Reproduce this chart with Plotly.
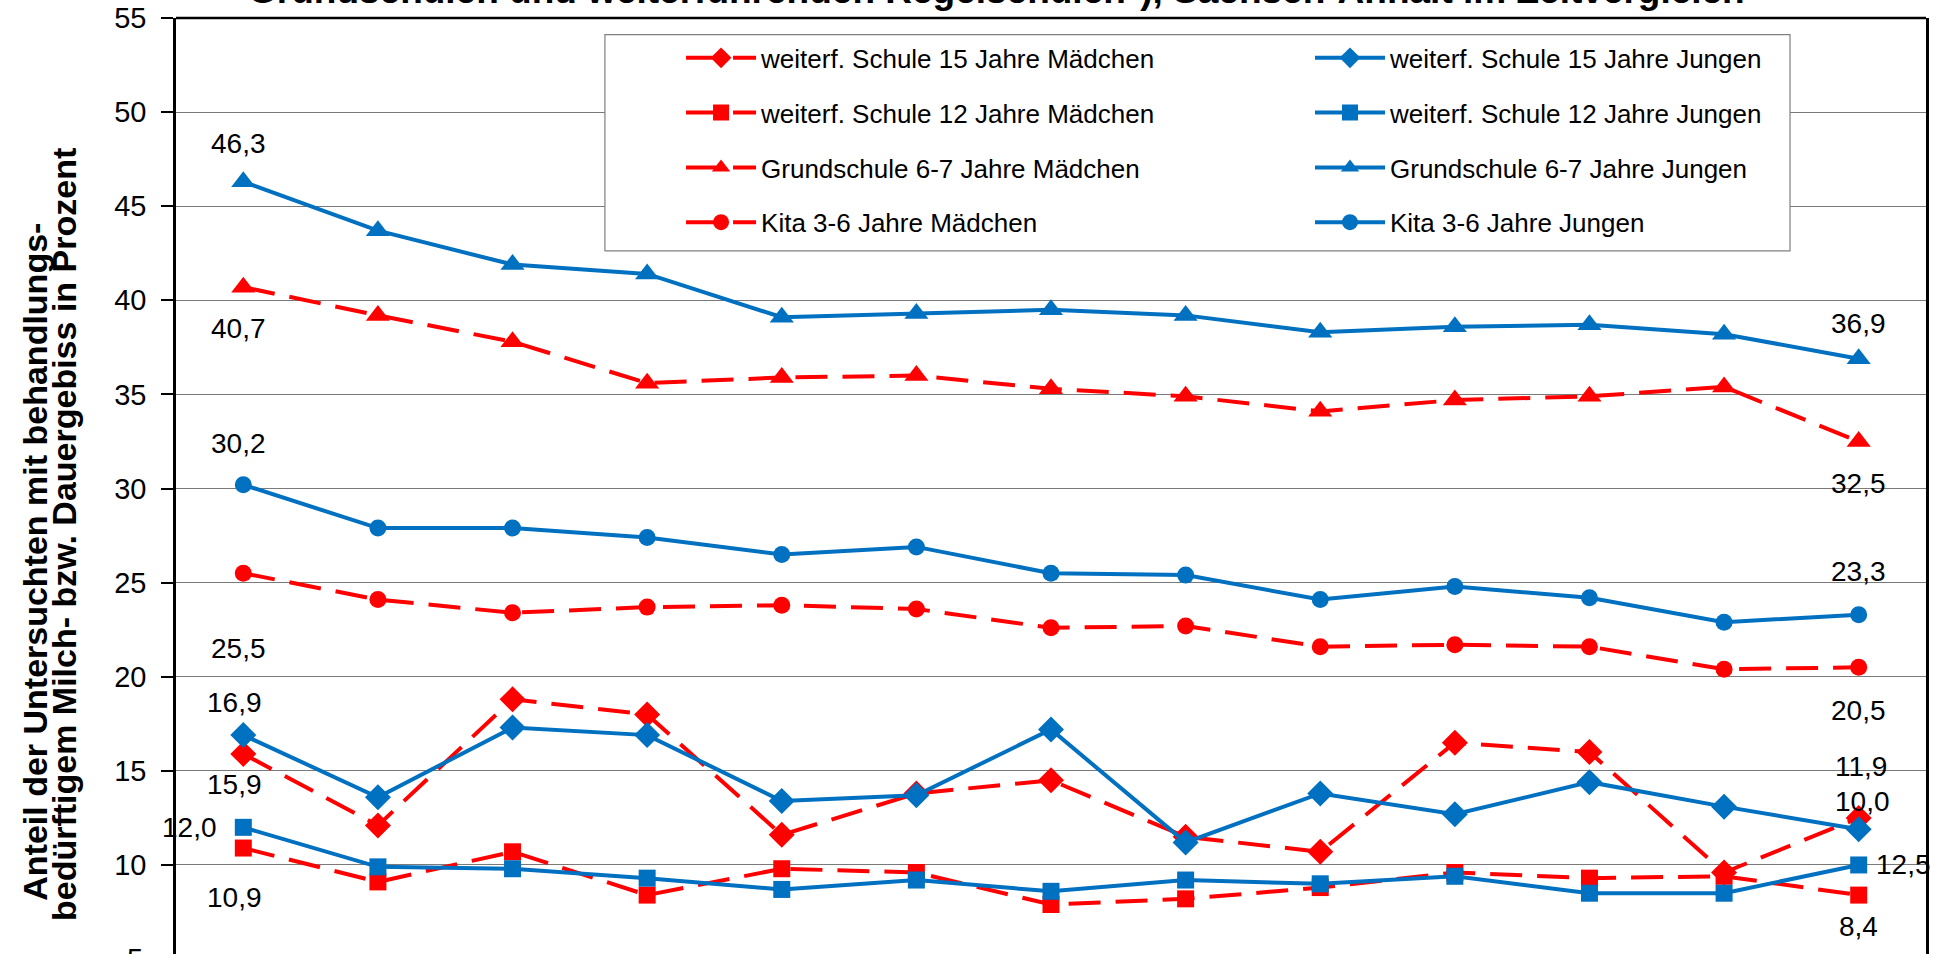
import plotly.graph_objects as go

# ---------------- data ----------------
years = ["2005/06", "2006/07", "2007/08", "2008/09", "2009/10", "2010/11", "2011/12",
         "2012/13", "2013/14", "2014/15", "2015/16", "2016/17", "2017/18"]

ws15_m = [15.9, 12.1, 18.8, 18.0, 11.6, 13.8, 14.5, 11.5, 10.7, 16.5, 16.0, 9.6, 12.5]
ws15_j = [16.9, 13.6, 17.3, 16.9, 13.4, 13.7, 17.2, 11.2, 13.8, 12.7, 14.4, 13.1, 11.9]
ws12_m = [10.9, 9.1, 10.7, 8.4, 9.8, 9.6, 7.9, 8.2, 8.8, 9.6, 9.3, 9.4, 8.4]
ws12_j = [12.0, 9.9, 9.8, 9.3, 8.7, 9.2, 8.6, 9.2, 9.0, 9.4, 8.5, 8.5, 10.0]
gs_m = [40.7, 39.2, 37.8, 35.6, 35.9, 36.0, 35.3, 34.9, 34.1, 34.7, 34.9, 35.4, 32.5]
gs_j = [46.3, 43.7, 41.9, 41.4, 39.1, 39.3, 39.5, 39.2, 38.3, 38.6, 38.7, 38.2, 36.9]
kita_m = [25.5, 24.1, 23.4, 23.7, 23.8, 23.6, 22.6, 22.7, 21.6, 21.7, 21.6, 20.4, 20.5]
kita_j = [30.2, 27.9, 27.9, 27.4, 26.5, 26.9, 25.5, 25.4, 24.1, 24.8, 24.2, 22.9, 23.3]

names = {
    "ws15_m": "weiterf. Schule 15 Jahre Mädchen",
    "ws15_j": "weiterf. Schule 15 Jahre Jungen",
    "ws12_m": "weiterf. Schule 12 Jahre Mädchen",
    "ws12_j": "weiterf. Schule 12 Jahre Jungen",
    "gs_m": "Grundschule 6-7 Jahre Mädchen",
    "gs_j": "Grundschule 6-7 Jahre Jungen",
    "kita_m": "Kita 3-6 Jahre Mädchen",
    "kita_j": "Kita 3-6 Jahre Jungen",
}
title_text = "Grundschulen und weiterführenden Regelschulen*), Sachsen-Anhalt im Zeitvergleich"
ytitle_1 = "Anteil der Untersuchten mit behandlungs-"
ytitle_2 = "bedürftigem Milch- bzw. Dauergebiss in Prozent"
y_ticks = [5, 10, 15, 20, 25, 30, 35, 40, 45, 50, 55]
Y_MIN, Y_MAX = 5.27, 55  # visible part of the value axis (bottom is cut off)

RED = "#FF0000"
BLUE = "#0070C0"
FONT = "Liberation Sans, Arial, sans-serif"

fig = go.Figure()

series = [
    ("ws15_m", ws15_m, RED, "diamond", 20, "legend"),
    ("ws12_m", ws12_m, RED, "square", 17, "legend"),
    ("gs_m", gs_m, RED, "triangle-up", 21, "legend"),
    ("kita_m", kita_m, RED, "circle", 17, "legend"),
    ("ws15_j", ws15_j, BLUE, "diamond", 20, "legend2"),
    ("ws12_j", ws12_j, BLUE, "square", 17, "legend2"),
    ("gs_j", gs_j, BLUE, "triangle-up", 21, "legend2"),
    ("kita_j", kita_j, BLUE, "circle", 17, "legend2"),
]

for key, vals, col, sym, size, leg in series:
    fig.add_trace(go.Scatter(
        x=years, y=vals, name=names[key], mode="lines+markers",
        line=dict(color=col, width=4, dash="32px,15px" if col == RED else "solid"),
        marker=dict(symbol=sym, size=size, color=col),
        legend=leg, legendgroup=key, cliponaxis=False,
    ))

def fmt(v):
    return f"{v:.1f}".replace(".", ",")

LBL = dict(family=FONT, size=28, color="black")
first, last = years[0], years[-1]
# (x category, value anchor, text value, xshift, yshift)
labels = [
    (first, gs_j[0], gs_j[0], -5, 38),
    (first, gs_m[0], gs_m[0], -5, -41),
    (first, kita_j[0], kita_j[0], -5, 41),
    (first, kita_m[0], kita_m[0], -5, -75),
    (first, ws15_j[0], ws15_j[0], -9, 33),
    (first, ws15_m[0], ws15_m[0], -9, -31),
    (first, ws12_j[0], ws12_j[0], -54, 0),
    (first, ws12_m[0], ws12_m[0], -9, -49),
    (last, gs_j[-1], gs_j[-1], 0, 35),
    (last, gs_m[-1], gs_m[-1], 0, -42),
    (last, kita_j[-1], kita_j[-1], 0, 43),
    (last, kita_m[-1], kita_m[-1], 0, -43),
    (last, ws15_j[-1], ws15_j[-1], 2, 63),
    (last, ws15_m[-1], ws12_j[-1], 4, 16),
    (last, ws12_j[-1], ws15_m[-1], 45, 0),
    (last, ws12_m[-1], ws12_m[-1], 0, -31),
]
for xc, yv, tv, xs, ys in labels:
    fig.add_annotation(x=xc, y=yv, xref="x", yref="y", text=fmt(tv), showarrow=False,
                       xshift=xs, yshift=ys, font=LBL)

# y-axis title (two lines)
fig.add_annotation(x=-0.0806, y=0.419, xref="paper", yref="paper", text=f"<b>{ytitle_1}</b>",
                   textangle=-90, showarrow=False, xanchor="center", yanchor="middle",
                   font=dict(family=FONT, size=34, color="black"))
fig.add_annotation(x=-0.064, y=0.4476, xref="paper", yref="paper", text=f"<b>{ytitle_2}</b>",
                   textangle=-90, showarrow=False, xanchor="center", yanchor="middle",
                   font=dict(family=FONT, size=34, color="black"))
# title (cut at top)
fig.add_annotation(x=0.469, y=1.029, xref="paper", yref="paper", text=f"<b>{title_text}</b>",
                   showarrow=False, xanchor="center", yanchor="middle",
                   font=dict(family=FONT, size=37, color="black"))
# y tick "5" (just below the visible range, partly cut)
fig.add_annotation(x=0, y=(y_ticks[0] - Y_MIN) / (Y_MAX - Y_MIN), xref="paper", yref="paper",
                   text=str(y_ticks[0]), showarrow=False, xanchor="right", yanchor="middle",
                   xshift=-31, font=dict(family=FONT, size=29, color="black"))

# legend box + plot frame
fig.add_shape(type="rect", xref="paper", yref="paper", x0=0.2451, x1=0.9223, y0=0.7511, y1=0.9823,
              line=dict(color="#808080", width=1.2), fillcolor="white", layer="above")
fig.add_shape(type="line", xref="paper", yref="paper", x0=0, x1=1, y0=1, y1=1,
              line=dict(color="black", width=2.5), layer="above")

leg_common = dict(font=dict(family=FONT, size=26, color="black"), bgcolor="rgba(0,0,0,0)",
                  borderwidth=0, orientation="v", yanchor="top", xanchor="left",
                  tracegroupgap=18, itemwidth=70, traceorder="grouped")

fig.update_layout(
    width=1936, height=954,
    margin=dict(l=176, r=10, t=18, b=0),
    paper_bgcolor="white", plot_bgcolor="white",
    font=dict(family=FONT, color="black"),
    showlegend=True,
    legend=dict(x=0.2886, y=0.9825, **leg_common),
    legend2=dict(x=0.6480, y=0.9825, **leg_common),
    xaxis=dict(type="category", showticklabels=False, showgrid=False, showline=False,
               ticks="", zeroline=False, range=[-0.5, len(years) - 0.5]),
    yaxis=dict(range=[Y_MIN, Y_MAX], tickvals=y_ticks, showgrid=True, gridcolor="#7a7a7a",
               gridwidth=1, zeroline=False, showline=True, linecolor="black", linewidth=2.5,
               mirror=True, ticks="outside", ticklen=12, tickwidth=1.5, tickcolor="black",
               ticklabelstandoff=9, tickfont=dict(family=FONT, size=29, color="black")),
)

fig.write_html(
    "out.html",
    config={"displayModeBar": False},
    post_script="document.body.style.margin='0';document.body.style.overflow='hidden';",
)
